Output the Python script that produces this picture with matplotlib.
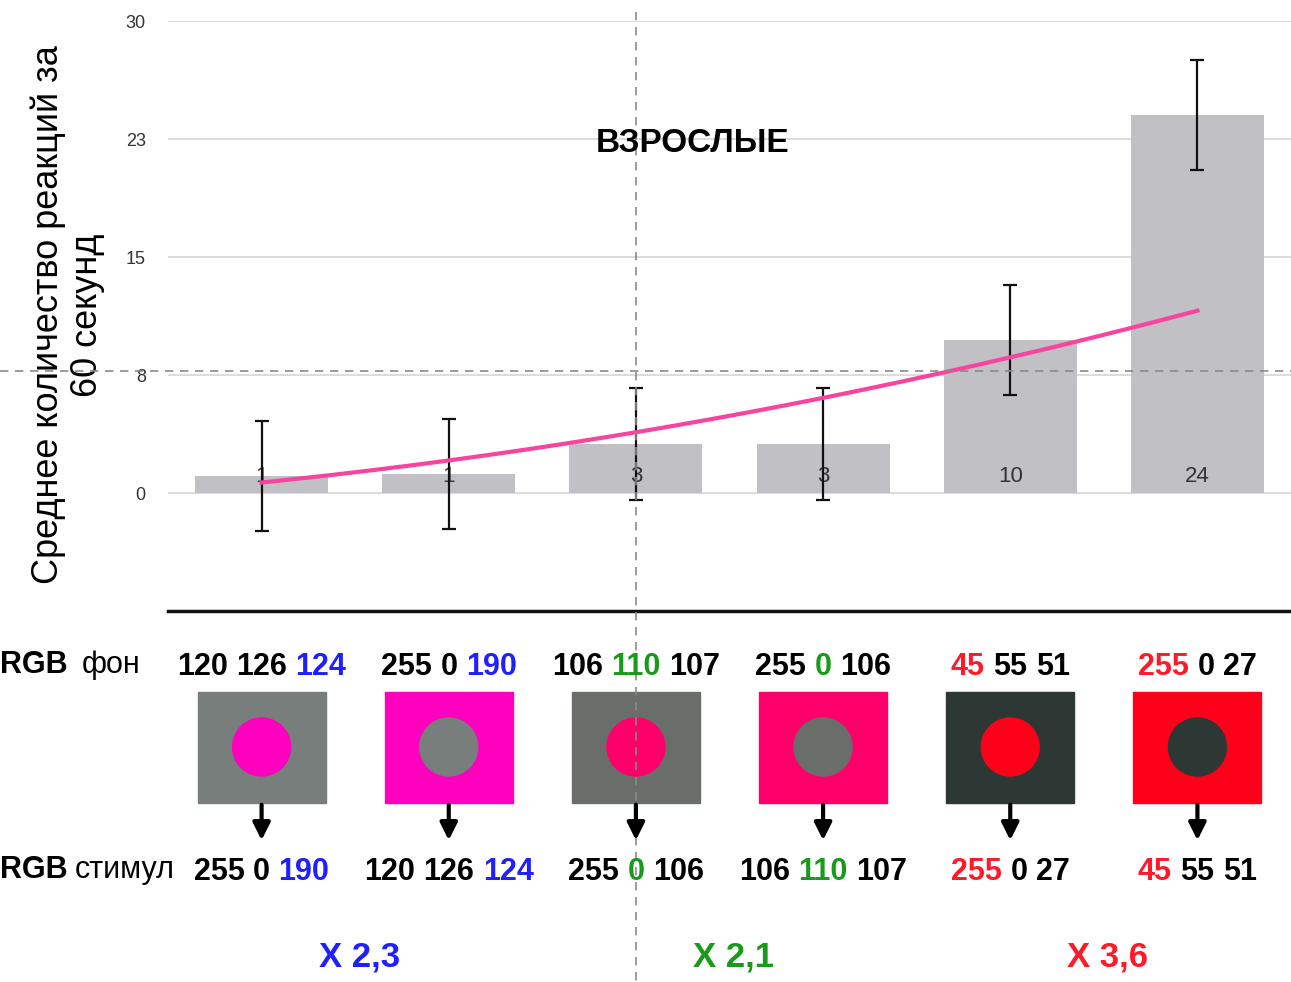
import numpy as np
import matplotlib
matplotlib.use("Agg")
import matplotlib.pyplot as plt
from matplotlib.patches import Rectangle, Circle

plt.rcParams['font.family'] = ['Liberation Sans', 'DejaVu Sans']

# --- data ---
bar_labels = ['1', '1', '3', '3', '10', '24']
means = [1.1, 1.2, 3.1, 3.1, 9.7, 24.0]
errs = [3.5, 3.5, 3.55, 3.55, 3.5, 3.5]
trend_vals = [0.7, 2.05, 3.8, 6.0, 8.8, 11.5]

ytick_pos = [0, 7.5, 15, 22.5, 30]
ytick_lab = ['0', '8', '15', '23', '30']

# background / stimulus RGB for each bar
bg_rgb = [(120, 126, 124), (255, 0, 190), (106, 110, 107),
          (255, 0, 106), (45, 55, 51), (255, 0, 27)]
stim_rgb = [(255, 0, 190), (120, 126, 124), (255, 0, 106),
            (106, 110, 107), (255, 0, 27), (45, 55, 51)]
hi_channel = [2, 2, 1, 1, 0, 0]
hi_color = ['#2020ff', '#2020ff', '#1a9a1a', '#1a9a1a', '#ff1a2a', '#ff1a2a']

ratio_labels = ['X 2,3', 'X 2,1', 'X 3,6']
ratio_colors = ['#2020ff', '#1a9a1a', '#ff1a2a']

W, H = 1291, 982
fig = plt.figure(figsize=(W / 100, H / 100), dpi=100)
ax = fig.add_axes([168 / W, 1 - 611 / H, 1 - 168 / W, (611 - 21) / H])

x = np.arange(len(means))
ax.bar(x, means, width=0.71, color='#c1c1c5', zorder=2)
for i, lab in enumerate(bar_labels):
    ax.text(i, 1.05, lab, ha='center', va='center', fontsize=16, color='#333333', zorder=3)
ax.errorbar(x, means, yerr=errs, fmt='none', ecolor='#111111', elinewidth=1.6,
            capsize=5, capthick=1.6, zorder=4)

# trend line (quadratic through the points)
coef = np.polyfit(x, trend_vals, 2)
xs = np.linspace(0, 5, 200)
ax.plot(xs, np.polyval(coef, xs), color='#f7449f', lw=3, zorder=5)

ax.set_xlim(-0.5, 5.5)
ax.set_ylim(-7.5, 30)
ax.set_yticks(ytick_pos)
ax.set_yticklabels(ytick_lab, fontsize=13, color='#333333')
ax.set_xticks([])
ax.tick_params(axis='y', length=0, pad=16)
ax.yaxis.grid(True, color='#dcdcdc', lw=1.5)
ax.set_axisbelow(True)
for s in ['left', 'right', 'top']:
    ax.spines[s].set_visible(False)
ax.spines['bottom'].set_color('#111111')
ax.spines['bottom'].set_linewidth(2.5)

fig.text(68 / W, 1 - 315 / H, 'Среднее количество реакций за\n60 секунд', rotation=90,
         fontsize=26, ha='center', va='center', linespacing=1.15)

# overlay in pixel coordinates (y downwards)
ov = fig.add_axes([0, 0, 1, 1], zorder=10)
ov.set_xlim(0, W)
ov.set_ylim(H, 0)
ov.axis('off')

ov.text(693, 152, 'ВЗРОСЛЫЕ', ha='center', va='baseline', fontsize=24, fontweight='bold')

renderer = fig.canvas.get_renderer()
cols_px = [ax.transData.transform((i, 0))[0] for i in x]


def triplet(cx, y, vals, hi, col, size=22):
    space = size * 0.278 * 100 / 72
    texts = []
    for k, v in enumerate(vals):
        texts.append(ov.text(0, y, str(v), fontsize=size, fontweight='bold', va='baseline',
                             ha='left', color=col if k == hi else 'black'))
    widths = [t.get_window_extent(renderer).width for t in texts]
    x0 = cx - (sum(widths) + space * (len(widths) - 1)) / 2
    for t, w in zip(texts, widths):
        t.set_x(x0)
        x0 += w + space


ov.text(0, 673, 'RGB', fontsize=22, fontweight='bold', va='baseline')
ov.text(82, 673, 'фон', fontsize=22, va='baseline')
ov.text(0, 878, 'RGB', fontsize=22, fontweight='bold', va='baseline')
ov.text(75, 878, 'стимул', fontsize=22, va='baseline')

for i, cx in enumerate(cols_px):
    triplet(cx, 675, bg_rgb[i], hi_channel[i], hi_color[i])
    triplet(cx, 880, stim_rgb[i], hi_channel[i], hi_color[i])
    ov.add_patch(Rectangle((cx - 64, 692), 128, 111,
                           color=tuple(c / 255 for c in bg_rgb[i])))
    ov.add_patch(Circle((cx, 747), 29, color=tuple(c / 255 for c in stim_rgb[i])))
    ov.annotate('', xy=(cx, 843), xytext=(cx, 802),
                arrowprops=dict(arrowstyle='-|>', color='black', lw=3, mutation_scale=26))

for g, lab in enumerate(ratio_labels):
    cx = (cols_px[2 * g] + cols_px[2 * g + 1]) / 2
    ov.text(cx + 4, 967, lab, ha='center', va='baseline', fontsize=25,
            fontweight='bold', color=ratio_colors[g])

# dashed cursor cross
ov.plot([636, 636], [12, H], ls=(0, (5, 4)), color='#8a8a8a', lw=1.2)
ov.plot([0, W], [371, 371], ls=(0, (5, 4)), color='#8a8a8a', lw=1.2)

fig.savefig('out.png', dpi=100)
